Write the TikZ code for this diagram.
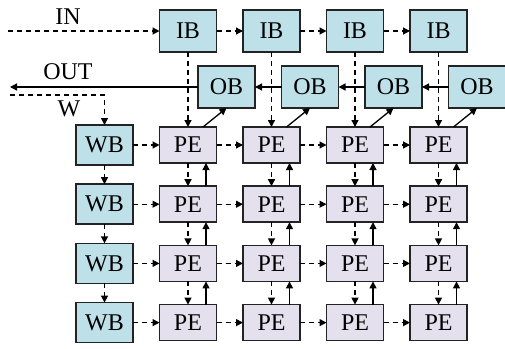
\documentclass[tikz,border=0pt]{standalone}
\usepackage{fontspec}
\setmainfont{Liberation Serif}
\usetikzlibrary{positioning,arrows.meta}
\definecolor{bufblue}{RGB}{190,225,233}
\definecolor{pelilac}{RGB}{228,224,238}
\definecolor{edgegray}{RGB}{35,35,35}

\begin{document}
\begin{tikzpicture}[
  buf/.style={draw=edgegray, line width=1.5pt, fill=bufblue, minimum width=57pt,
    minimum height=42pt, inner sep=0pt, outer sep=0pt, font=\fontsize{24}{26}\selectfont},
  wbuf/.style={buf, minimum height=40pt},
  pe/.style={buf, fill=pelilac, minimum height=36pt},
  tip/.style={-{Triangle[length=7pt,width=7pt]}},
  data/.style={tip, line width=1.3pt, dash pattern=on 5pt off 4pt},
  result/.style={tip, line width=1.3pt},
  lbl/.style={font=\fontsize{24}{26}\selectfont}
]

\useasboundingbox (0,0) rectangle (505pt,-348pt);

% input buffers
\node[buf] (ib1) at (188pt,-31pt) {IB};
\node[buf,right=26.5pt of ib1] (ib2) {IB};
\node[buf,right=26.5pt of ib2] (ib3) {IB};
\node[buf,right=26.5pt of ib3] (ib4) {IB};

% output buffers
\node[buf,below=14pt of ib1,xshift=38.5pt] (ob1) {OB};
\node[buf,right=26.5pt of ob1] (ob2) {OB};
\node[buf,right=26.5pt of ob2] (ob3) {OB};
\node[buf,right=26.5pt of ob3] (ob4) {OB};

% processing elements
\node[pe,below=75pt of ib1] (pe11) {PE};
\node[pe,right=26.5pt of pe11] (pe12) {PE};
\node[pe,right=26.5pt of pe12] (pe13) {PE};
\node[pe,right=26.5pt of pe13] (pe14) {PE};

\node[pe,below=23.2pt of pe11] (pe21) {PE};
\node[pe,right=26.5pt of pe21] (pe22) {PE};
\node[pe,right=26.5pt of pe22] (pe23) {PE};
\node[pe,right=26.5pt of pe23] (pe24) {PE};

\node[pe,below=23.2pt of pe21] (pe31) {PE};
\node[pe,right=26.5pt of pe31] (pe32) {PE};
\node[pe,right=26.5pt of pe32] (pe33) {PE};
\node[pe,right=26.5pt of pe33] (pe34) {PE};

\node[pe,below=23.2pt of pe31] (pe41) {PE};
\node[pe,right=26.5pt of pe41] (pe42) {PE};
\node[pe,right=26.5pt of pe42] (pe43) {PE};
\node[pe,right=26.5pt of pe43] (pe44) {PE};

% weight buffers
\node[wbuf,left=26.5pt of pe11] (wb1) {WB};
\node[wbuf,left=26.5pt of pe21] (wb2) {WB};
\node[wbuf,left=26.5pt of pe31] (wb3) {WB};
\node[wbuf,left=26.5pt of pe41] (wb4) {WB};

% outside ends and labels
\coordinate (inend) at (8pt,-31pt);
\coordinate (edgeL) at (10pt,0);
\coordinate (wend) at (10pt,-95pt);
\node[lbl] (inlab) at (68pt,-17pt) {IN};
\node[lbl] (outlab) at (68pt,-72pt) {OUT};
\node[lbl] (wlab) at (69pt,-109pt) {W};

\path[data]
  % input stream
  (inend) edge (ib1.west)
  % from IB to IB
  (ib1) edge (ib2)
  (ib2) edge (ib3)
  (ib3) edge (ib4)
  % from IB down to PE
  (ib1) edge (pe11)
  (ib2) edge (pe12)
  (ib3) edge (pe13)
  (ib4) edge (pe14)
  % from WB to WB
  (wb1) edge (wb2)
  (wb2) edge (wb3)
  (wb3) edge (wb4)
  % from WB to PE
  (wb1) edge (pe11)
  (wb2) edge (pe21)
  (wb3) edge (pe31)
  (wb4) edge (pe41)
  % from PE to PE, left to right
  (pe11) edge (pe12)  (pe12) edge (pe13)  (pe13) edge (pe14)
  (pe21) edge (pe22)  (pe22) edge (pe23)  (pe23) edge (pe24)
  (pe31) edge (pe32)  (pe32) edge (pe33)  (pe33) edge (pe34)
  (pe41) edge (pe42)  (pe42) edge (pe43)  (pe43) edge (pe44)
  % from PE to PE, downwards
  (pe11) edge (pe21)  (pe12) edge (pe22)  (pe13) edge (pe23)  (pe14) edge (pe24)
  (pe21) edge (pe31)  (pe22) edge (pe32)  (pe23) edge (pe33)  (pe24) edge (pe34)
  (pe31) edge (pe41)  (pe32) edge (pe42)  (pe33) edge (pe43)  (pe34) edge (pe44)
;

% weight stream
\draw[data] (wend) -| (wb1.north);

\path[result]
  % output stream
  (ob1.west) edge (ob1.west -| edgeL)
  % from OB to OB
  (ob2) edge (ob1)
  (ob3) edge (ob2)
  (ob4) edge (ob3)
  % from PE up to OB
  ([xshift=15pt]pe11.north) edge (ob1.south)
  ([xshift=15pt]pe12.north) edge (ob2.south)
  ([xshift=15pt]pe13.north) edge (ob3.south)
  ([xshift=15pt]pe14.north) edge (ob4.south)
  % from PE to PE, upwards
  ([xshift=18pt]pe21.north) edge ([xshift=18pt]pe11.south)
  ([xshift=18pt]pe22.north) edge ([xshift=18pt]pe12.south)
  ([xshift=18pt]pe23.north) edge ([xshift=18pt]pe13.south)
  ([xshift=18pt]pe24.north) edge ([xshift=18pt]pe14.south)
  ([xshift=18pt]pe31.north) edge ([xshift=18pt]pe21.south)
  ([xshift=18pt]pe32.north) edge ([xshift=18pt]pe22.south)
  ([xshift=18pt]pe33.north) edge ([xshift=18pt]pe23.south)
  ([xshift=18pt]pe34.north) edge ([xshift=18pt]pe24.south)
  ([xshift=18pt]pe41.north) edge ([xshift=18pt]pe31.south)
  ([xshift=18pt]pe42.north) edge ([xshift=18pt]pe32.south)
  ([xshift=18pt]pe43.north) edge ([xshift=18pt]pe33.south)
  ([xshift=18pt]pe44.north) edge ([xshift=18pt]pe34.south)
;

\end{tikzpicture}
\end{document}
